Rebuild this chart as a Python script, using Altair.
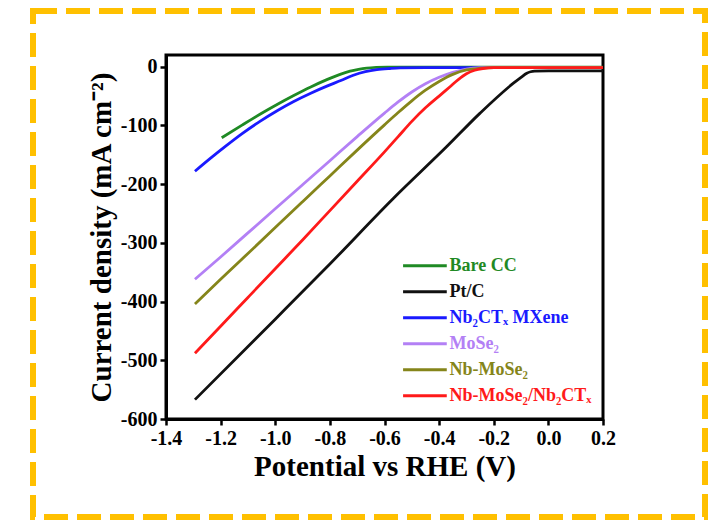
import altair as alt
import pandas as pd

series_names = ["Bare CC", "Pt/C", "Nb₂CTₓ MXene", "MoSe₂", "Nb-MoSe₂", "Nb-MoSe₂/Nb₂CTₓ"]
series_colors = ["#1f8a24", "#111111", "#1a1aff", "#b380f5", "#85851a", "#ff1a1a"]

bare_v = [-1.196, -1.12, -1.056, -0.99, -0.934, -0.87, -0.811, -0.76, -0.726, -0.695, -0.665, -0.63, -0.59, -0.5, 0.2]
bare_j = [-121, -99, -81, -63.5, -49.5, -34.5, -22, -12.5, -7.5, -4.5, -2.5, -1.2, -0.5, -0.5, -0.5]

ptc_v = [-1.294, -1.0, -0.8, -0.567, -0.372, -0.25, -0.128, -0.1, -0.079, -0.065, -0.05, 0.0, 0.2]
ptc_j = [-567, -430, -336, -224, -136, -79, -28, -18, -11, -8.5, -7.5, -7, -7]

nbct_v = [-1.294, -1.24, -1.178, -1.12, -1.056, -0.99, -0.934, -0.87, -0.811, -0.76, -0.714, -0.67, -0.628, -0.58, -0.543, -0.45, 0.2]
nbct_j = [-178, -157, -134, -113.5, -93, -74, -59.5, -45, -33, -23.5, -14.5, -8.5, -5, -3, -2, -1.5, -1.5]

mose_v = [-1.294, -1.2, -1.1, -1.0, -0.9, -0.8, -0.7, -0.6, -0.55, -0.5, -0.45, -0.4, -0.35, -0.3, -0.25, -0.2, 0.2]
mose_j = [-362, -324, -283, -242, -201, -160, -119, -79, -60, -43, -29, -18, -9.5, -4, -1.5, -1, -1]

nbmose_v = [-1.294, -1.2, -1.1, -1.0, -0.9, -0.8, -0.7, -0.6, -0.55, -0.5, -0.45, -0.4, -0.35, -0.3, -0.25, -0.2, 0.2]
nbmose_j = [-404, -362, -318, -274, -230, -186, -142, -99, -78, -58, -40, -25, -13, -5.5, -2.5, -1.5, -1.5]

hyb_v = [-1.294, -1.2, -1.1, -1.0, -0.9, -0.8, -0.7, -0.6, -0.55, -0.5, -0.45, -0.4, -0.36, -0.33, -0.3, -0.27, -0.24, -0.2, 0.2]
hyb_j = [-488, -442, -393, -344, -295, -245, -195, -145, -119, -93, -70, -50, -34, -22, -12, -6, -3, -1.5, -1.5]

x_ticks = [-1.4, -1.2, -1.0, -0.8, -0.6, -0.4, -0.2, 0.0, 0.2]
y_ticks = [0, -100, -200, -300, -400, -500, -600]

all_v = [bare_v, ptc_v, nbct_v, mose_v, nbmose_v, hyb_v]
all_j = [bare_j, ptc_j, nbct_j, mose_j, nbmose_j, hyb_j]

FONT = "Times New Roman, Liberation Serif, serif"

x_axis = alt.Axis(values=x_ticks, title="Potential vs RHE (V)", grid=False,
                  labelExpr="datum.value < 0 ? '-' + format(-datum.value, '.1f') : format(datum.value, '.1f')",
                  labelFlush=False, labelOverlap=False)
y_axis = alt.Axis(values=y_ticks, title="Current density (mA cm⁻²)", grid=False,
                  labelExpr="datum.value < 0 ? '-' + format(-datum.value, 'd') : format(datum.value, 'd')",
                  labelOverlap=False)
x_scale = alt.Scale(domain=[-1.4, 0.2], nice=False, zero=False)
y_scale = alt.Scale(domain=[-600, 20], nice=False, zero=False)


def X(field):
    return alt.X(field, type="quantitative", scale=x_scale, axis=x_axis)


def Y(field):
    return alt.Y(field, type="quantitative", scale=y_scale, axis=y_axis)


layers = []
for name, color, vs, js in zip(series_names, series_colors, all_v, all_j):
    df = pd.DataFrame({"V": vs, "J": js, "series": name})
    layers.append(
        alt.Chart(df).mark_line(color=color, strokeWidth=2.8, interpolate="monotone")
        .encode(x=X("V"), y=Y("J"), order=alt.Order("V:Q"))
    )

legend_df = pd.DataFrame({"name": series_names, "color": series_colors, "i": list(range(len(series_names)))})
legend_base = alt.Chart(legend_df).transform_calculate(
    lx1="-0.532", lx2="-0.372", tx="-0.362", ly="-339 - 44.3 * datum.i"
)
legend_rules = legend_base.mark_rule(strokeWidth=3).encode(
    x=X("lx1"), x2="lx2:Q", y=Y("ly"), color=alt.Color("color:N", scale=None)
)
legend_text = legend_base.mark_text(
    align="left", baseline="middle", font=FONT, fontSize=18, fontWeight="bold"
).encode(
    x=X("tx"), y=Y("ly"), text="name:N", color=alt.Color("color:N", scale=None)
)

border = alt.Chart(pd.DataFrame({"a": [0]})).mark_rect(
    filled=False, stroke="#FFC000", strokeWidth=6, strokeDash=[24, 9]
).encode(
    x=alt.value(-133), x2=alt.value(539), y=alt.value(-44), y2=alt.value(462)
)

chart = alt.layer(*layers, legend_rules, legend_text, border).properties(
    width=437, height=364,
    padding={"left": 22, "top": 0, "right": 0, "bottom": 0},
    background="white",
).configure_view(
    stroke="black", strokeWidth=3
).configure_axis(
    domainColor="black", domainWidth=3, tickColor="black", tickWidth=2.5, tickSize=6,
    labelFont=FONT, labelFontSize=20, labelFontWeight="bold", labelColor="black", labelPadding=3,
    titleFont=FONT, titleFontSize=29, titleFontWeight="bold", titleColor="black",
).configure_axisX(titlePadding=4).configure_axisY(titlePadding=4)

chart.save("out.html", embed_options={"renderer": "svg", "actions": False})
